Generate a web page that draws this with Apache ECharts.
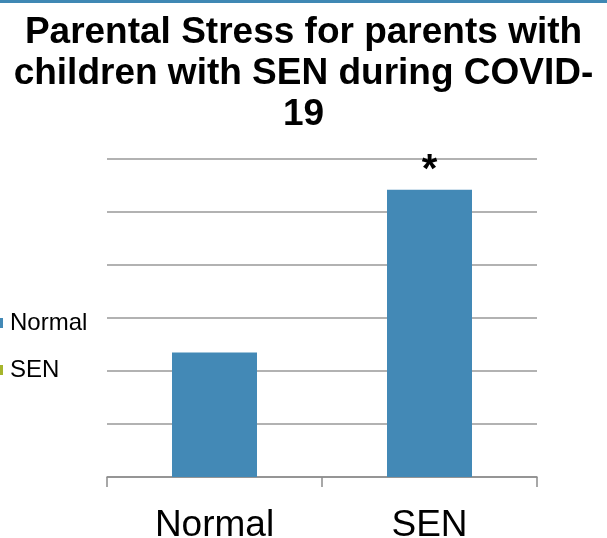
<!DOCTYPE html>
<html>
<head>
<meta charset="utf-8">
<script src="https://cdn.jsdelivr.net/npm/echarts@6/dist/echarts.min.js"></script>
<style>
  html, body { margin: 0; padding: 0; background: #fff; }
  #chart { width: 607px; height: 538px; }
</style>
</head>
<body>
<div id="chart"></div>
<script>
// Mean parental stress score per group
const categories = ['Normal', 'SEN'];
const stressValues = [2.35, 5.42];
const significance = ['', '*'];
const legendNames = ['Normal', 'SEN'];

const chart = echarts.init(document.getElementById('chart'));

chart.setOption({
  animation: false,
  title: {
    text: 'Parental Stress for parents with\nchildren with SEN during COVID-\n19',
    left: 'center',
    top: 7,
    textStyle: {
      fontFamily: 'Liberation Sans, Arial, sans-serif',
      fontWeight: 'bold',
      fontSize: 37,
      lineHeight: 41,
      color: '#000'
    }
  },
  graphic: [{
    type: 'rect',
    shape: { x: 0, y: 0, width: 607, height: 3 },
    style: { fill: '#3f88b4' }
  }],
  legend: {
    orient: 'vertical',
    left: -7,
    top: 311,
    padding: 0,
    itemWidth: 10,
    itemHeight: 10,
    itemGap: 23,
    icon: 'rect',
    data: legendNames,
    textStyle: {
      fontFamily: 'Liberation Sans, Arial, sans-serif',
      fontSize: 24,
      color: '#000',
      padding: [0, 0, 0, 2]
    }
  },
  grid: { left: 107, right: 70, top: 159, bottom: 61, containLabel: false, outerBoundsMode: 'none' },
  xAxis: {
    type: 'category',
    data: categories,
    axisLine: { lineStyle: { color: '#8c8c8c', width: 1.5 } },
    axisTick: { show: true, length: 10, lineStyle: { color: '#8c8c8c', width: 1.5 } },
    axisLabel: {
      fontFamily: 'Liberation Sans, Arial, sans-serif',
      fontSize: 37,
      color: '#000',
      margin: 30
    }
  },
  yAxis: {
    type: 'value',
    min: 0,
    max: 6,
    interval: 1,
    axisLabel: { show: false },
    axisLine: { show: false },
    axisTick: { show: false },
    splitLine: { lineStyle: { color: '#999', width: 1.5 } }
  },
  series: [
    {
      name: 'Normal',
      type: 'bar',
      barWidth: 85,
      barGap: '-100%',
      itemStyle: { color: '#4389b6' },
      data: stressValues,
      label: {
        show: true,
        position: 'top',
        distance: -1,
        fontFamily: 'Liberation Sans, Arial, sans-serif',
        fontSize: 40,
        fontWeight: 'bold',
        color: '#000',
        formatter: p => significance[p.dataIndex]
      }
    },
    {
      name: 'SEN',
      type: 'bar',
      barWidth: 85,
      barGap: '-100%',
      itemStyle: { color: '#a6b52c' },
      data: []
    }
  ]
});
</script>
</body>
</html>
